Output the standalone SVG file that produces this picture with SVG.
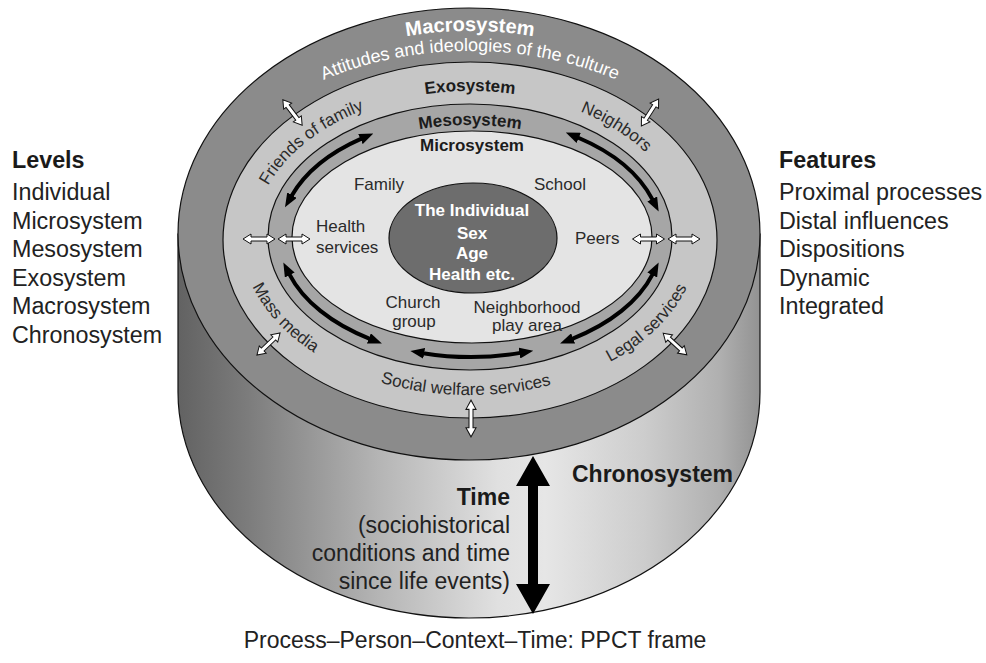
<svg xmlns="http://www.w3.org/2000/svg" width="986" height="663" viewBox="0 0 986 663">
  <defs>
    <style>
      text { font-family: "Liberation Sans", Arial, Helvetica, sans-serif; }
      .list { font-size: 23.3px; fill: #222; }
      .head { font-size: 23.3px; font-weight: bold; fill: #1a1a1a; }
      .body { font-size: 23px; fill: #222; }
      .body-head { font-size: 23px; font-weight: bold; fill: #1a1a1a; }
      .ring-title { font-size: 17px; font-weight: bold; fill: #1c1c1c; text-anchor: middle; }
      .lbl { font-size: 17px; fill: #2a2a2a; }
      .mid { text-anchor: middle; }
      .ind { font-size: 17px; font-weight: bold; fill: #fff; text-anchor: middle; }
      .edge { stroke: #111; stroke-width: 1.2; }
      .black-arrow { fill: none; stroke: #000; stroke-width: 4; marker-start: url(#ah); marker-end: url(#ah); }
      .white-arrow { fill: #fff; stroke: #111; stroke-width: 1; stroke-linejoin: miter; }
    </style>
    <linearGradient id="side" gradientUnits="userSpaceOnUse" x1="178" y1="0" x2="760" y2="0">
      <stop offset="0" stop-color="#626262"/>
      <stop offset="0.12" stop-color="#7c7c7c"/>
      <stop offset="0.35" stop-color="#b6b6b6"/>
      <stop offset="0.55" stop-color="#e0e0e0"/>
      <stop offset="0.63" stop-color="#e6e6e6"/>
      <stop offset="0.8" stop-color="#cdcdcd"/>
      <stop offset="0.93" stop-color="#b0b0b0"/>
      <stop offset="1" stop-color="#929292"/>
    </linearGradient>
    <marker id="ah" viewBox="0 0 14 11" refX="1" refY="5.5" markerWidth="14" markerHeight="11" markerUnits="userSpaceOnUse" orient="auto-start-reverse">
      <path d="M0,0 L14,5.5 L0,11 z" fill="#000"/>
    </marker>
    <polygon id="wa" class="white-arrow" points="-16,0 -8,-5 -8,-2 8,-2 8,-5 16,0 8,5 8,2 -8,2 -8,5"/>
    <!-- baselines for the curved ring labels -->
    <path id="pMacro" d="M186,238 A284,207 0 0 1 754,238"/>
    <path id="pAtt" d="M196,238 A274,187 0 0 1 744,238"/>
    <path id="pExoUp" d="M254,238 A216,147 0 0 1 686,238"/>
    <path id="pExoLow" d="M241,237 A229,158 0 0 0 699,237"/>
    <path id="pMeso" d="M284,238 A186,113 0 0 1 656,238"/>
  </defs>

  <rect width="986" height="663" fill="#fff"/>

  <!-- left column -->
  <g id="levels">
    <text class="head" x="12" y="168">Levels</text>
    <text class="list" x="12" y="200">Individual</text>
    <text class="list" x="12" y="228.5">Microsystem</text>
    <text class="list" x="12" y="257">Mesosystem</text>
    <text class="list" x="12" y="285.5">Exosystem</text>
    <text class="list" x="12" y="314">Macrosystem</text>
    <text class="list" x="12" y="342.5">Chronosystem</text>
  </g>

  <!-- right column -->
  <g id="features">
    <text class="head" x="779" y="168">Features</text>
    <text class="list" x="779" y="200">Proximal processes</text>
    <text class="list" x="779" y="228.5">Distal influences</text>
    <text class="list" x="779" y="257">Dispositions</text>
    <text class="list" x="779" y="285.5">Dynamic</text>
    <text class="list" x="779" y="314">Integrated</text>
  </g>

  <!-- cylinder body: time dimension -->
  <g id="chronosystem">
    <path class="edge" d="M178,234 L178,392 A291,226 0 0 0 760,392 L760,234 Z" fill="url(#side)"/>
    <text class="body-head" x="572" y="482">Chronosystem</text>
  </g>

  <g id="macrosystem">
    <ellipse class="edge" cx="469" cy="234" rx="291" ry="226" fill="#8b8b8b"/>
    <text font-size="20" font-weight="bold" fill="#fff" text-anchor="middle"><textPath href="#pMacro" startOffset="50%">Macrosystem</textPath></text>
    <text font-size="18" fill="#fff" text-anchor="middle"><textPath href="#pAtt" startOffset="50%">Attitudes and ideologies of the culture</textPath></text>
  </g>

  <g id="exosystem">
    <ellipse class="edge" cx="470" cy="240" rx="247" ry="178" fill="#c6c6c6"/>
    <text class="ring-title"><textPath href="#pExoUp" startOffset="50%">Exosystem</textPath></text>
    <text class="lbl mid"><textPath href="#pExoUp" startOffset="117">Friends of family</textPath></text>
    <text class="lbl mid"><textPath href="#pExoUp" startOffset="439">Neighbors</textPath></text>
    <text class="lbl mid"><textPath href="#pExoLow" startOffset="97">Mass media</textPath></text>
    <text class="lbl mid"><textPath href="#pExoLow" startOffset="302">Social welfare services</textPath></text>
    <text class="lbl mid"><textPath href="#pExoLow" startOffset="506">Legal services</textPath></text>
  </g>

  <g id="mesosystem">
    <ellipse class="edge" cx="470" cy="237" rx="202" ry="133" fill="#a6a6a6"/>
    <text class="ring-title"><textPath href="#pMeso" startOffset="50%">Mesosystem</textPath></text>
  </g>

  <g id="microsystem">
    <ellipse class="edge" cx="472" cy="237" rx="180" ry="106" fill="#e4e4e4"/>
    <text class="ring-title" x="472" y="151">Microsystem</text>
    <text class="lbl mid" x="379" y="190">Family</text>
    <text class="lbl mid" x="560" y="190">School</text>
    <text class="lbl" x="316" y="232">Health</text>
    <text class="lbl" x="316" y="253">services</text>
    <text class="lbl" x="575" y="244">Peers</text>
    <text class="lbl mid" x="413" y="308">Church</text>
    <text class="lbl mid" x="414" y="327">group</text>
    <text class="lbl mid" x="527" y="313">Neighborhood</text>
    <text class="lbl mid" x="527" y="331">play area</text>
  </g>

  <g id="individual">
    <ellipse class="edge" cx="473" cy="238" rx="84" ry="55" fill="#6d6d6d"/>
    <text class="ind" x="472" y="216">The Individual</text>
    <text class="ind" x="472" y="239">Sex</text>
    <text class="ind" x="472" y="259">Age</text>
    <text class="ind" x="472" y="280">Health etc.</text>
  </g>

  <g id="time">
    <text class="body-head" x="510" y="505" text-anchor="end">Time</text>
    <text class="body" x="510" y="533" text-anchor="end">(sociohistorical</text>
    <text class="body" x="510" y="561" text-anchor="end">conditions and time</text>
    <text class="body" x="510" y="589" text-anchor="end">since life events)</text>
  </g>

  <g id="connectors">
    <!-- mesosystem links between microsystem settings -->
    <path class="black-arrow" d="M291.5,196 A191,120 0 0 1 361.4,138.7"/>
    <path class="black-arrow" d="M577.8,137.5 A191,120 0 0 1 652.7,199.9"/>
    <path class="black-arrow" d="M369.8,338.8 A191,120 0 0 1 289.3,274.1"/>
    <path class="black-arrow" d="M652.7,274.1 A191,120 0 0 1 572.2,338.8"/>
    <path class="black-arrow" d="M520.4,352.9 A191,120 0 0 1 423.2,353.2"/>
    <!-- two-way influences across ring boundaries -->
    <use href="#wa" transform="translate(292.5,112.5) rotate(52.8)"/>
    <use href="#wa" transform="translate(650,112.5) rotate(-57.4)"/>
    <use href="#wa" transform="translate(259,239)"/>
    <use href="#wa" transform="translate(294,239)"/>
    <use href="#wa" transform="translate(648.5,239)"/>
    <use href="#wa" transform="translate(684,239)"/>
    <use href="#wa" transform="translate(268.5,344) rotate(-43.7)"/>
    <use href="#wa" transform="translate(675,344) rotate(42.5)"/>
    <use href="#wa" transform="translate(471,418.5) rotate(90) scale(1.15,1)"/>
    <!-- time axis -->
    <polygon points="533,456 550,486 538,486 538,584 550,584 533,614 516,584 528,584 528,486 516,486" fill="#000"/>
  </g>

  <g id="caption">
    <text class="body mid" x="475" y="648">Process–Person–Context–Time: PPCT frame</text>
  </g>
</svg>
